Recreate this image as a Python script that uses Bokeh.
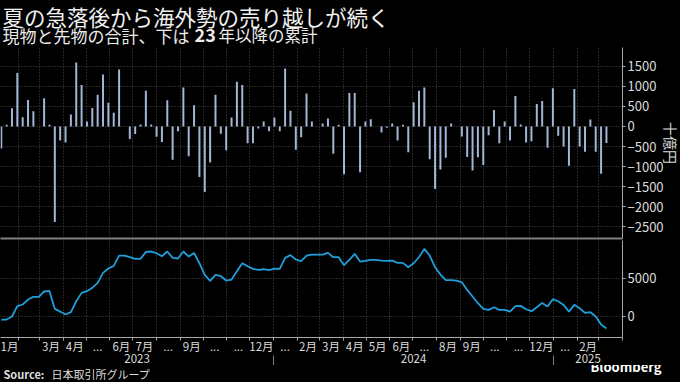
import pandas as pd
from bokeh.plotting import figure
from bokeh.models import (Range1d, FixedTicker, Label, ColumnDataSource,
                          DatetimeAxis, GlobalInlineStyleSheet)
from bokeh.layouts import column
from bokeh.embed import file_html
from bokeh.resources import INLINE

# ---------------- data ----------------
first_week = "2023-01-10"
# weekly net foreign purchase (cash + futures), 10億円
weekly_net = [
    -550, 40, 450, 1330, 230, 660, 380, 0, 700, 40,
    -2380, -350, -400, 300, 1590, 1030, 120, 460, 790, 1290,
    590, 340, 1420, 0, -310, -190, 50, 890, 50, -260,
    -390, 650, -830, -120, 970, -740, 530, -1260, -1630, -900,
    790, -180, -590, 220, 1110, 1030, -420, -420, -50, 120,
    -120, 220, -120, 1440, 390, -580, -270, 820, 120, 0,
    70, 200, -680, 40, -1190, 830, 830, -1140, 120, 180,
    0, -150, -30, 70, -350, 40, -640, 600, 890, 970,
    -820, -1560, -1070, -780, 70, 0, -250, -760, -1100, -770,
    -960, -220, 410, -420, 120, -350, 760, 50, -400, -370,
    560, 630, -530, 950, -230, -500, -980, 930, -500, -630,
    170, -630, -1180, -410,
]
# cumulative since 2023, 10億円
cumulative = [
    -440, -440, -40, 1320, 1540, 2190, 2540, 2540, 3250, 3330,
    960, 610, 220, 530, 1970, 3070, 3290, 3730, 4390, 5700,
    6270, 6620, 7980, 7980, 7760, 7540, 7540, 8460, 8510, 8290,
    7890, 8510, 7680, 7590, 8510, 7850, 8330, 6970, 5440, 4650,
    5440, 5260, 4690, 4820, 5920, 6970, 6580, 6230, 6100, 6180,
    6050, 6270, 6230, 7680, 8030, 7460, 7240, 7980, 8110, 8110,
    8110, 8330, 7760, 7760, 6710, 7410, 8200, 7190, 7280, 7410,
    7410, 7320, 7280, 7320, 7020, 7020, 6450, 6970, 7760, 8860,
    7980, 6450, 5480, 4740, 4740, 4690, 4470, 3460, 2590, 1710,
    960, 830, 1180, 830, 830, 610, 1320, 1360, 920, 660,
    1180, 1750, 1270, 2240, 1970, 1490, 610, 1490, 1050, 440,
    530, -40, -1100, -1620,
]
month_label_dates = [
    "2023-01-20", "2023-03-16", "2023-04-16", "2023-05-16", "2023-06-16",
    "2023-07-16", "2023-08-16", "2023-09-16", "2023-10-16", "2023-11-16",
    "2023-12-16", "2024-01-16", "2024-02-15", "2024-03-16", "2024-04-16",
    "2024-05-16", "2024-06-16", "2024-07-16", "2024-08-16", "2024-09-16",
    "2024-10-16", "2024-11-16", "2024-12-16", "2025-01-16", "2025-02-15",
]
month_labels = [
    "1月", "3月", "4月", "...", "6月", "7月", "...", "9月", "...", "...",
    "12月", "...", "2月", "3月", "4月", "5月", "6月", "...", "8月", "9月",
    "...", "...", "12月", "...", "2月",
]
year_labels = ["2023", "2024", "2025"]
top_ticks = [-2500, -2000, -1500, -1000, -500, 0, 500, 1000, 1500]
bottom_ticks = [0, 5000]

title_text = "夏の急落後から海外勢の売り越しが続く"
sub_a, sub_b, sub_c = "現物と先物の合計、下は", "23", "年以降の累計"
unit_text = "十億円"
source_a, source_b = "Source:", "日本取引所グループ"
brand = "Bloomberg"

# ---------------- styling ----------------
FONT = "Noto Sans CJK JP"
BG = "#000000"
BAR = "#a2b6d6"
LINE = "#1f9fd9"
GRID = "#4d4d4d"
AXIS = "#a8a8a8"
TXT = "#dcdcdc"
W = 680
FW = 622           # plot frame width (frames are aligned in the column)
RB = W - FW        # right border for the value axis


def ms(d):
    return pd.Timestamp(d).value / 1e6


dates = pd.date_range(first_week, periods=len(weekly_net), freq="7D")
src = ColumnDataSource(dict(date=dates, net=weekly_net, cum=cumulative))

x_start, x_end = pd.Timestamp("2023-01-09"), pd.Timestamp("2025-04-01")
xr = Range1d(x_start, x_end)
month_starts = [ms(d) for d in pd.date_range("2023-02-01", x_end, freq="MS")]
year_bounds = [ms("2024-01-01"), ms("2025-01-01")]
edges = [ms(x_start)] + year_bounds + [ms(x_end)]
year_mids = [(edges[i] + edges[i + 1]) / 2 for i in range(3)]


def lab(p, text, x, y, size, color=TXT, bold=False, align="left",
        baseline="middle", x_units="data"):
    p.add_layout(Label(x=x, y=y, x_units=x_units, y_units="data",
                       text=text, text_font=FONT, text_font_size=f"{size}px",
                       text_color=color,
                       text_font_style="bold" if bold else "normal",
                       text_align=align, text_baseline=baseline))


def style_value_axis(p):
    p.xgrid.ticker = FixedTicker(ticks=month_starts)
    for g in (p.xgrid, p.ygrid):
        g.grid_line_color = GRID
        g.grid_line_dash = "1 2"
        g.grid_line_width = 1
    ax = p.yaxis[0]
    ax.axis_line_color = AXIS
    ax.major_tick_line_color = AXIS
    ax.major_tick_in = 0
    ax.major_tick_out = 3
    ax.minor_tick_line_color = None
    ax.major_label_standoff = 2
    ax.major_label_text_font = FONT
    ax.major_label_text_font_size = "13px"
    ax.major_label_text_color = TXT


# ---------------- header: title and subtitle ----------------
head = figure(width=W, height=47, x_range=Range1d(0, FW),
              y_range=Range1d(47, 0), x_axis_location=None,
              y_axis_location=None, toolbar_location=None,
              output_backend="svg", min_border=0, min_border_right=RB,
              background_fill_color=BG, border_fill_color=BG,
              outline_line_color=None)
head.grid.visible = False
lab(head, title_text, 2, 15.7, 21.5, color="#f0f0f0")
lab(head, sub_a, 2, 34.8, 17, color="#ececec")
lab(head, sub_b, 195, 34.3, 18, color="#ececec", bold=True)
lab(head, sub_c, 219, 34.8, 16.5, color="#ececec")

# ---------------- top panel: weekly bars ----------------
p1 = figure(frame_width=FW, frame_height=191, x_axis_type="datetime",
            y_axis_location="right", x_range=xr, y_range=Range1d(-2790, 1965),
            toolbar_location=None, output_backend="svg", min_border=0,
            min_border_right=RB, min_border_bottom=2,
            background_fill_color=BG, border_fill_color=BG,
            outline_line_color=None)
p1.vbar(x="date", top="net", bottom=0, width=2.6 * 86400000, source=src,
        fill_color=BAR, line_color=None)
p1.yaxis.ticker = FixedTicker(ticks=top_ticks)
style_value_axis(p1)
p1.yaxis.axis_label = unit_text
p1.yaxis.axis_label_text_font = FONT
p1.yaxis.axis_label_text_font_size = "14px"
p1.yaxis.axis_label_text_font_style = "normal"
p1.yaxis.axis_label_text_color = TXT
p1.yaxis.axis_label_standoff = -6
xa = p1.xaxis[0]
xa.ticker = FixedTicker(ticks=[])
xa.axis_line_color = "#808080"
xa.axis_line_width = 2
xa.major_tick_line_color = None
xa.minor_tick_line_color = None
xa.major_tick_out = 0
xa.major_label_standoff = 0

# ---------------- bottom panel: cumulative line ----------------
p2 = figure(frame_width=FW, frame_height=97, x_axis_type="datetime",
            y_axis_location="right", x_range=xr, y_range=Range1d(-2800, 9960),
            toolbar_location=None, output_backend="svg", min_border=0,
            min_border_right=RB,
            background_fill_color=BG, border_fill_color=BG,
            outline_line_color=None)
p2.line(x="date", y="cum", source=src, line_color=LINE, line_width=1.8)
p2.yaxis.ticker = FixedTicker(ticks=bottom_ticks)
style_value_axis(p2)

mx = p2.xaxis[0]
label_ms = [ms(d) for d in month_label_dates]
mx.ticker = FixedTicker(ticks=label_ms, minor_ticks=month_starts)
mx.major_label_overrides = {t: s for t, s in zip(label_ms, month_labels)}
mx.axis_line_color = AXIS
mx.major_tick_line_color = None
mx.major_tick_out = 0
mx.major_tick_in = 0
mx.minor_tick_line_color = AXIS
mx.minor_tick_in = 0
mx.minor_tick_out = 3
mx.major_label_standoff = -3
mx.major_label_text_font = FONT
mx.major_label_text_font_size = "11.5px"
mx.major_label_text_color = TXT

yax = DatetimeAxis(ticker=FixedTicker(ticks=year_mids, minor_ticks=year_bounds),
                   major_label_overrides={t: s for t, s in zip(year_mids, year_labels)},
                   axis_line_color=None, major_tick_line_color=None,
                   major_tick_out=0, major_tick_in=0,
                   minor_tick_line_color="#808080", minor_tick_in=1,
                   minor_tick_out=13, major_label_standoff=-16,
                   major_label_text_font=FONT,
                   major_label_text_font_size="11.5px",
                   major_label_text_color=TXT)
p2.add_layout(yax, "below")

# ---------------- footer: source and brand ----------------
FH = 16
foot = figure(width=W, height=FH, x_range=xr, y_range=Range1d(0, FH),
              x_axis_location=None, y_axis_location="right",
              toolbar_location=None, output_backend="svg", min_border=0,
              min_border_right=RB,
              background_fill_color=BG, border_fill_color=BG,
              outline_line_color=None)
foot.grid.visible = False
fy = foot.yaxis[0]
fy.ticker = FixedTicker(ticks=[4])
fy.major_label_overrides = {4: brand}
fy.axis_line_color = None
fy.major_tick_line_color = None
fy.minor_tick_line_color = None
fy.major_tick_out = 0
fy.major_tick_in = 0
fy.major_label_standoff = -29
fy.major_label_text_font = FONT
fy.major_label_text_font_size = "13px"
fy.major_label_text_font_style = "bold"
fy.major_label_text_color = "#ffffff"
lab(foot, source_a, 3, 8, 11, bold=True, x_units="screen")
lab(foot, source_b, 51, 8, 11, x_units="screen")

layout = column(head, p1, p2, foot, spacing=0,
                stylesheets=[GlobalInlineStyleSheet(
                    css="html,body{background:#000000;overflow:hidden;}")])

open("out.html", "w").write(file_html(layout, INLINE))
